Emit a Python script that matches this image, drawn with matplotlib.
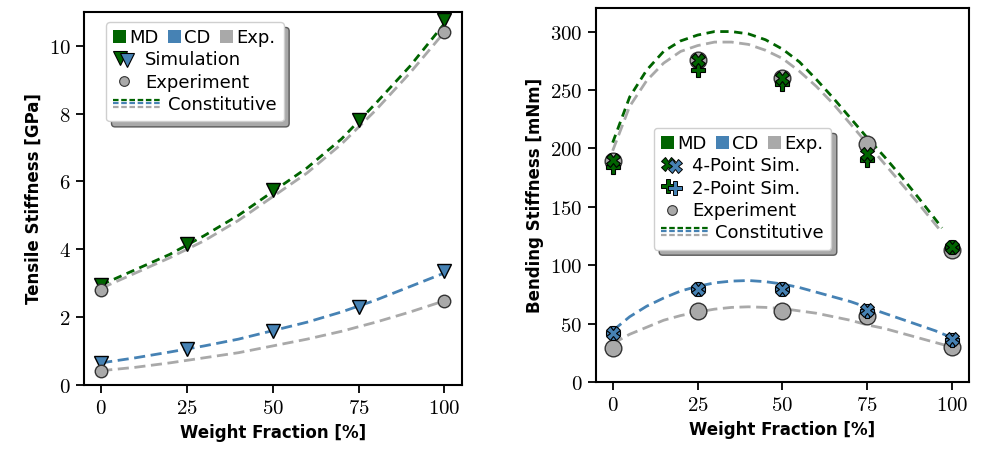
import matplotlib
matplotlib.use("Agg")
import matplotlib.pyplot as plt
from matplotlib.lines import Line2D
from matplotlib.patches import Rectangle
from matplotlib.offsetbox import HPacker, DrawingArea, TextArea
from matplotlib.ticker import FuncFormatter

plt.rcParams['mathtext.fontset'] = 'cm'

GREEN = '#006400'
BLUE = '#4682b4'
GRAY = '#a9a9a9'

frac = [0, 25, 50, 75, 100]

# tensile stiffness [GPa]
tens_sim_md = [2.95, 4.15, 5.75, 7.8, 10.75]
tens_sim_cd = [0.65, 1.05, 1.6, 2.3, 3.35]
tens_exp_frac = [0, 100]
tens_exp_md = [2.8, 10.4]
tens_exp_cd = [0.42, 2.48]
tens_curve_frac = [0, 10, 20, 30, 40, 50, 60, 70, 80, 90, 100]
tens_con_md = [2.95, 3.4, 3.85, 4.4, 5.0, 5.7, 6.4, 7.25, 8.3, 9.4, 10.65]
tens_con_md_exp = [2.85, 3.3, 3.75, 4.25, 4.85, 5.55, 6.25, 7.1, 8.1, 9.2, 10.4]
tens_con_cd = [0.65, 0.8, 0.97, 1.15, 1.35, 1.6, 1.85, 2.15, 2.5, 2.9, 3.3]
tens_con_cd_exp = [0.42, 0.52, 0.65, 0.8, 0.95, 1.15, 1.35, 1.58, 1.85, 2.15, 2.48]

# bending stiffness [mNm]
bend_4pt_md = [190, 276, 260, 195, 116]
bend_2pt_md = [184, 267, 255, 190, 116]
bend_exp_md = [189, 276, 260, 204, 113]
bend_4pt_cd = [42, 80, 80, 62, 37]
bend_2pt_cd = [42, 80, 80, 61, 36]
bend_exp_cd = [29, 61, 61, 57, 30]
bend_md_frac = [0, 5, 10, 15, 20, 25, 30, 35, 40, 45, 50, 55, 60, 65, 70, 75, 80, 85, 90, 97]
bend_con_md = [205, 244, 267, 283, 292, 297, 300, 300, 298, 293, 285, 274, 259, 243, 226, 209, 193, 176, 158, 132]
bend_con_md_exp = [198, 236, 258, 273, 283, 288, 291, 291, 289, 284, 277, 266, 253, 238, 221, 204, 187, 170, 153, 128]
bend_cd_frac = [0, 5, 10, 15, 20, 25, 30, 35, 40, 45, 50, 55, 60, 65, 70, 75, 80, 85, 90, 95, 100]
bend_con_cd = [44, 56, 65, 72, 78, 82, 85, 86.5, 87, 86, 84, 81, 77, 73, 69, 64, 59, 54, 49, 44, 38]
bend_con_cd_exp = [33, 41, 47, 53, 57, 60, 62.5, 64, 64.5, 64, 63, 61, 59, 56, 53, 49, 46, 42, 38, 34, 30]

LEG_FS = 13


class IconHandler:
    """draws a few small lines/markers in the legend handle box"""
    def __init__(self, parts):
        self.parts = parts

    def legend_artist(self, legend, orig_handle, fontsize, handlebox):
        yc = (handlebox.height - handlebox.ydescent) / 2
        x0 = -handlebox.xdescent
        for xs, dy, kw in self.parts:
            ln = Line2D([x0 + x for x in xs], [yc + dy] * len(xs), **kw)
            handlebox.add_artist(ln)
        return ln


def swatch_row(fig):
    kids = []
    for name, col in [('MD', GREEN), ('CD', BLUE), ('Exp.', GRAY)]:
        da = DrawingArea(9.5, 9.5, 0, 0)
        da.add_artist(Rectangle((0, 0), 9.5, 9.5, fc=col, ec='none'))
        txt = TextArea(name, textprops=dict(fontsize=LEG_FS))
        kids.append(HPacker(children=[da, txt], sep=2, pad=0, align='baseline'))
    row = HPacker(children=kids, sep=7, pad=0, align='baseline')
    row.set_figure(fig)
    return row


def add_legend(ax, fig, entries, anchor):
    handles = [object() for _ in entries]
    hmap = {h: IconHandler(parts) for h, (label, parts) in zip(handles, entries)}
    leg = ax.legend(handles, [e[0] for e in entries], handler_map=hmap,
                    loc='upper left', bbox_to_anchor=anchor, borderaxespad=0,
                    fontsize=LEG_FS, handlelength=1.3, handletextpad=0.45,
                    labelspacing=0.24, borderpad=0.4, alignment='left',
                    fancybox=True, framealpha=1, edgecolor='#cfcfcf',
                    shadow={'ox': 4, 'oy': -4, 'facecolor': '#a0a0a0', 'alpha': 0.9})
    leg._legend_box._children.insert(1, swatch_row(fig))
    return leg


def style_axes(ax):
    for s in ax.spines.values():
        s.set_linewidth(1.5)
    ax.tick_params(direction='out', length=6, width=1.3, labelsize=15)
    ax.set_xticks(frac)
    ax.xaxis.set_major_formatter(FuncFormatter(lambda v, p: f'${v:g}$'))
    ax.yaxis.set_major_formatter(FuncFormatter(lambda v, p: f'${v:g}$'))
    ax.set_xlim(-5, 105)
    ax.set_xlabel('Weight Fraction [%]', fontsize=12, fontweight='bold')


fig = plt.figure(figsize=(9.83, 4.55), dpi=100)
ax1 = fig.add_axes([0.0855, 0.154, 0.384, 0.820])
ax2 = fig.add_axes([0.606, 0.160, 0.380, 0.822])

# ---- tensile ----
ax1.plot(tens_curve_frac, tens_con_md_exp, ls=(0, (4, 2)), color=GRAY, lw=2)
ax1.plot(tens_curve_frac, tens_con_cd_exp, ls=(0, (4, 2)), color=GRAY, lw=2)
ax1.plot(tens_curve_frac, tens_con_md, ls=(0, (3, 2)), color=GREEN, lw=2)
ax1.plot(tens_curve_frac, tens_con_cd, ls=(0, (4, 2)), color=BLUE, lw=2)
ax1.plot(frac, tens_sim_md, 'v', ms=10, color=GREEN, mec='black', mew=1)
ax1.plot(frac, tens_sim_cd, 'v', ms=10, color=BLUE, mec='black', mew=1)
ax1.plot(tens_exp_frac, tens_exp_md, 'o', ms=9, color=GRAY, mec='#333333', mew=1)
ax1.plot(tens_exp_frac, tens_exp_cd, 'o', ms=9, color=GRAY, mec='#333333', mew=1)
ax1.set_ylim(0, 11)
ax1.set_yticks([0, 2, 4, 6, 8, 10])
style_axes(ax1)
ax1.set_ylabel('Tensile Stiffness [GPa]', fontsize=12, fontweight='bold')

con_parts = [([0, 35], 3, dict(color=GREEN, lw=1.6, ls=(0, (2.5, 1.2)))),
             ([0, 35], 0.5, dict(color=BLUE, lw=1.6, ls=(0, (2.5, 1.2)))),
             ([0, 35], -2, dict(color=GRAY, lw=1.6, ls=(0, (2.5, 1.2))))]
add_legend(ax1, fig, [
    ('Simulation', [([5], 0.7, dict(marker='v', ms=10, color=GREEN, mec='black', mew=0.8, ls='none')),
                    ([10], -0.7, dict(marker='v', ms=10, color=BLUE, mec='black', mew=0.8, ls='none'))]),
    ('Experiment', [([8], 0, dict(marker='o', ms=7, color=GRAY, mec='#333333', mew=0.8, ls='none'))]),
    ('    Constitutive', con_parts),
], (0.058, 0.973))

# ---- bending ----
ax2.plot(bend_md_frac, bend_con_md_exp, ls=(0, (4, 2)), color=GRAY, lw=2)
ax2.plot(bend_cd_frac, bend_con_cd_exp, ls=(0, (4, 2)), color=GRAY, lw=2)
ax2.plot(bend_md_frac, bend_con_md, ls=(0, (3, 2)), color=GREEN, lw=2)
ax2.plot(bend_cd_frac, bend_con_cd, ls=(0, (4, 2)), color=BLUE, lw=2)
ax2.plot(frac, bend_exp_md, 'o', ms=12, color=GRAY, mec='#333333', mew=1)
ax2.plot(frac, bend_exp_cd, 'o', ms=12, color=GRAY, mec='#333333', mew=1)
ax2.plot(frac, bend_2pt_md, 'P', ms=10, color=GREEN, mec='black', mew=0.8)
ax2.plot(frac, bend_2pt_cd, 'P', ms=10, color=BLUE, mec='black', mew=0.8)
ax2.plot(frac, bend_4pt_md, 'X', ms=10, color=GREEN, mec='black', mew=0.8)
ax2.plot(frac, bend_4pt_cd, 'X', ms=10, color=BLUE, mec='black', mew=0.8)
ax2.set_ylim(0, 320)
ax2.set_yticks([0, 50, 100, 150, 200, 250, 300])
style_axes(ax2)
ax2.set_ylabel('Bending Stiffness [mNm]', fontsize=12, fontweight='bold')

add_legend(ax2, fig, [
    ('4-Point Sim.', [([5], 0.7, dict(marker='X', ms=10, color=GREEN, mec='black', mew=0.7, ls='none')),
                      ([10], -0.7, dict(marker='X', ms=10, color=BLUE, mec='black', mew=0.7, ls='none'))]),
    ('2-Point Sim.', [([5], 0.7, dict(marker='P', ms=10, color=GREEN, mec='black', mew=0.7, ls='none')),
                      ([10], -0.7, dict(marker='P', ms=10, color=BLUE, mec='black', mew=0.7, ls='none'))]),
    ('Experiment', [([8], 0, dict(marker='o', ms=7, color=GRAY, mec='#333333', mew=0.8, ls='none'))]),
    ('    Constitutive', con_parts),
], (0.155, 0.68))

fig.savefig('out.png', dpi=100)
